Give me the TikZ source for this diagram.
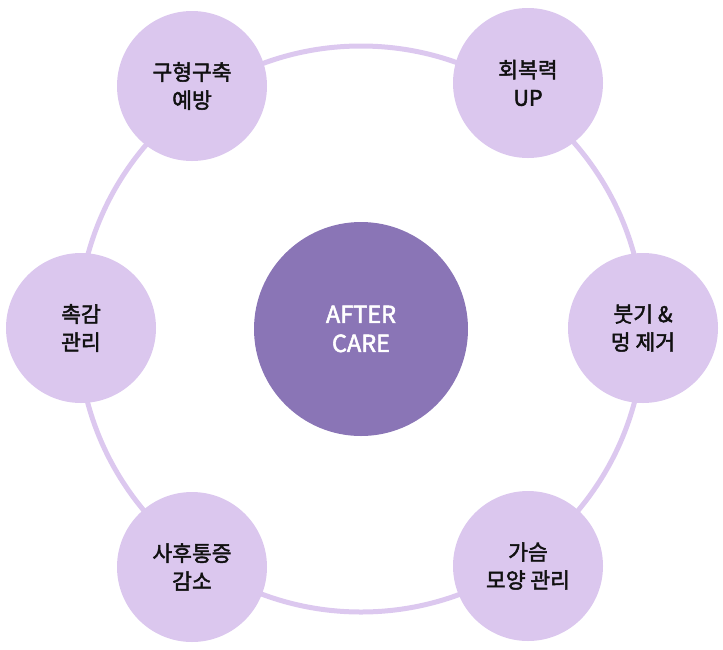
\documentclass[tikz,border=0pt]{standalone}
\usepackage{fontspec}
\setmainfont{Noto Sans CJK KR}[UprightFeatures={FakeBold=2.2}]
\usetikzlibrary{positioning}

\definecolor{carepurple}{HTML}{8A75B6}
\definecolor{petal}{HTML}{DBC7EE}
\definecolor{ringline}{HTML}{DCC8EF}
\definecolor{ink}{HTML}{111111}

\tikzset{
  petalnode/.style={circle,fill=petal,minimum size=150pt,inner sep=0pt,
    align=center,text=ink,font=\fontsize{21.5}{28}\selectfont},
  hubnode/.style={circle,fill=carepurple,minimum size=214pt,inner sep=0pt,
    align=center,text=white,font=\fontsize{23.5}{29}\selectfont},
}

\begin{document}
\begin{tikzpicture}[x=1pt,y=-1pt]
\useasboundingbox (0,0) rectangle (723,649);

% hub and ring
\node[hubnode] (care) at (361,329) {AFTER\\CARE};
\draw[ringline,line width=5pt] (care.center) circle[radius=283];

% petals
\node[petalnode] (shape) at (192,86) {구형구축\\예방};
\node[petalnode] (recover) at (528,83) {회복력\\UP};
\node[petalnode] (swell) at (643,328) {붓기 \&\\멍 제거};
\node[petalnode] (breast) at (528,566) {가슴\\모양 관리};
\node[petalnode] (pain) at (192,567) {사후통증\\감소};
\node[petalnode] (touch) at (81,328) {촉감\\관리};
\end{tikzpicture}
\end{document}
